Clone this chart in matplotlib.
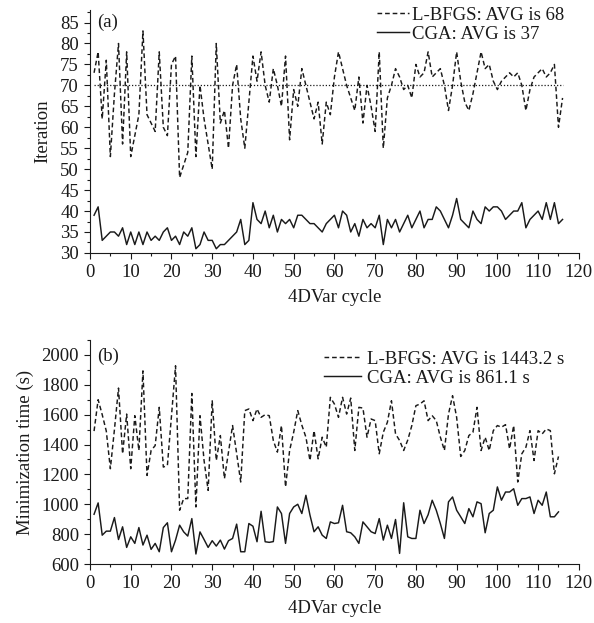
import numpy as np
import matplotlib
matplotlib.use("Agg")
import matplotlib.pyplot as plt
from matplotlib.ticker import MultipleLocator

plt.rcParams["font.family"] = ["Liberation Serif", "DejaVu Serif"]

# ------------------------------------------------------------
# DATA
# ------------------------------------------------------------

# (a) number of iterations per 4DVar cycle
iter_lbfgs = [73, 78, 62, 76, 53, 68, 80, 56, 78, 53,
              58, 63, 83, 63, 61, 59, 78, 60, 58, 75,
              77, 48, 51, 54, 77, 53, 70, 62, 56, 50,
              80, 61, 64, 55, 70, 75, 62, 55, 66, 77,
              71, 78, 70, 66, 74, 70, 65, 77, 57, 69,
              65, 74, 70, 66, 62, 66, 56, 66, 63, 72,
              78, 74, 70, 67, 64, 72, 61, 70, 65, 59,
              78, 55, 67, 70, 74, 72, 69, 70, 67, 75,
              72, 73, 78, 72, 73, 74, 70, 64, 70, 78,
              71, 66, 64, 68, 73, 78, 74, 75, 71, 69,
              71, 72, 73, 72, 73, 70, 64, 69, 72, 73,
              74, 72, 73, 75, 60, 67]
iter_cga = [39, 41, 33, 34, 35, 35, 34, 36, 32, 35,
            32, 35, 32, 35, 33, 34, 33, 35, 36, 33,
            34, 32, 35, 34, 36, 31, 32, 35, 33, 33,
            31, 32, 32, 33, 34, 35, 38, 32, 33, 42,
            38, 37, 40, 36, 39, 35, 38, 37, 38, 36,
            39, 39, 38, 37, 37, 36, 35, 37, 38, 39,
            36, 40, 39, 35, 37, 34, 38, 36, 37, 36,
            39, 32, 38, 36, 38, 35, 37, 39, 36, 38,
            40, 36, 38, 38, 41, 40, 38, 36, 39, 43,
            38, 37, 36, 40, 38, 37, 41, 40, 41, 41,
            40, 38, 39, 40, 40, 42, 36, 38, 39, 40,
            38, 42, 38, 42, 37, 38]
iter_ref = 70

# (b) minimization time (s) per 4DVar cycle
time_lbfgs = [1490, 1700, 1600, 1490, 1238, 1500, 1778, 1338, 1604, 1238,
              1593, 1360, 1893, 1193, 1360, 1393, 1649, 1249, 1260, 1590,
              1927, 960, 1038, 1038, 1742, 982, 1593, 1293, 1093, 1693,
              1293, 1460, 1171, 1350, 1527, 1340, 1149, 1627, 1638, 1560,
              1638, 1582, 1600, 1593, 1427, 1349, 1527, 1116, 1360, 1482,
              1627, 1530, 1449, 1293, 1493, 1304, 1449, 1382, 1716, 1671,
              1582, 1716, 1604, 1711, 1360, 1649, 1644, 1449, 1571, 1560,
              1338, 1482, 1549, 1693, 1471, 1427, 1360, 1430, 1527, 1660,
              1671, 1693, 1560, 1593, 1560, 1450, 1360, 1604, 1727, 1582,
              1320, 1360, 1460, 1482, 1649, 1360, 1449, 1360, 1493, 1527,
              1516, 1533, 1371, 1527, 1149, 1338, 1382, 1493, 1293, 1493,
              1471, 1504, 1493, 1204, 1320]
time_cga = [933, 1009, 793, 820, 820, 911, 764, 849, 711, 782,
            738, 844, 727, 793, 698, 738, 682, 844, 876, 682,
            760, 860, 815, 787, 904, 667, 815, 764, 711, 756,
            720, 760, 700, 756, 771, 867, 682, 682, 871, 853,
            749, 953, 749, 745, 750, 982, 938, 738, 938, 982,
            1000, 938, 1060, 927, 816, 849, 793, 771, 882, 871,
            876, 993, 816, 809, 782, 738, 882, 849, 816, 804,
            904, 760, 860, 771, 898, 671, 1010, 782, 771, 771,
            960, 871, 930, 1027, 960, 871, 771, 1016, 1049, 960,
            916, 871, 971, 916, 1016, 1004, 809, 938, 960, 1116,
            1027, 1082, 1082, 1104, 993, 1038, 1038, 1049, 938, 1027,
            993, 1082, 916, 916, 949]

cycles_a = np.arange(1, len(iter_lbfgs) + 1)
cycles_b = np.arange(1, len(time_lbfgs) + 1)

# ------------------------------------------------------------
# FIGURE
# ------------------------------------------------------------

fs = 13.5
ink = "#1a1a1a"

fig = plt.figure(figsize=(5.94, 6.23), dpi=100)
ax1 = fig.add_axes([0.1515, 0.594, 0.823, 0.390])
ax2 = fig.add_axes([0.1515, 0.0947, 0.823, 0.3596])

dash = (0, (3.2, 2.0))

ax1.plot(cycles_a, iter_lbfgs, color=ink, lw=1.05, ls=dash,
         label="L-BFGS: AVG is 68")
ax1.plot(cycles_a, iter_cga, color=ink, lw=1.05, label="CGA: AVG is 37")
ax1.plot([cycles_a[0], cycles_a[-1]], [iter_ref, iter_ref], color=ink,
         lw=0.9, ls=(0, (1, 1.5)))
ax1.set_xlim(0, 120)
ax1.set_ylim(30, 88)
ax1.yaxis.set_major_locator(MultipleLocator(5))
ax1.yaxis.set_minor_locator(MultipleLocator(2.5))
ax1.set_ylabel("Iteration", fontsize=fs, color=ink, labelpad=6)
ax1.text(0.014, 0.985, "(a)", transform=ax1.transAxes, va="top", ha="left",
         fontsize=fs, color=ink)
ax1.legend(loc="upper right", bbox_to_anchor=(0.985, 1.045), frameon=False,
           fontsize=fs, handlelength=1.7, handletextpad=0.15,
           labelspacing=0.1, borderaxespad=0, labelcolor=ink)

ax2.plot(cycles_b, time_lbfgs, color=ink, lw=1.05, ls=dash,
         label="L-BFGS: AVG is 1443.2 s")
ax2.plot(cycles_b, time_cga, color=ink, lw=1.05, label="CGA: AVG is 861.1 s")
ax2.set_xlim(0, 120)
ax2.set_ylim(600, 2100)
ax2.yaxis.set_major_locator(MultipleLocator(200))
ax2.yaxis.set_minor_locator(MultipleLocator(100))
ax2.set_ylabel("Minimization time (s)", fontsize=fs, color=ink, labelpad=5)
ax2.text(0.014, 0.965, "(b)", transform=ax2.transAxes, va="top", ha="left",
         fontsize=fs, color=ink)
ax2.legend(loc="upper right", bbox_to_anchor=(0.985, 0.985), frameon=False,
           fontsize=fs, handlelength=2.0, handletextpad=0.3,
           labelspacing=0.1, borderaxespad=0, labelcolor=ink)

for ax in (ax1, ax2):
    ax.xaxis.set_major_locator(MultipleLocator(10))
    ax.xaxis.set_minor_locator(MultipleLocator(5))
    ax.set_xlabel("4DVar cycle", fontsize=fs, color=ink, labelpad=6)
    ax.spines["top"].set_visible(False)
    ax.spines["right"].set_visible(False)
    for side in ("left", "bottom"):
        ax.spines[side].set_color(ink)
    ax.tick_params(which="major", direction="out", length=4, width=0.8,
                   labelsize=fs, color=ink, labelcolor=ink, pad=4)
    ax.tick_params(which="minor", direction="out", length=2.5, width=0.8,
                   color=ink)

fig.savefig("out.png", dpi=100)
plt.close(fig)
